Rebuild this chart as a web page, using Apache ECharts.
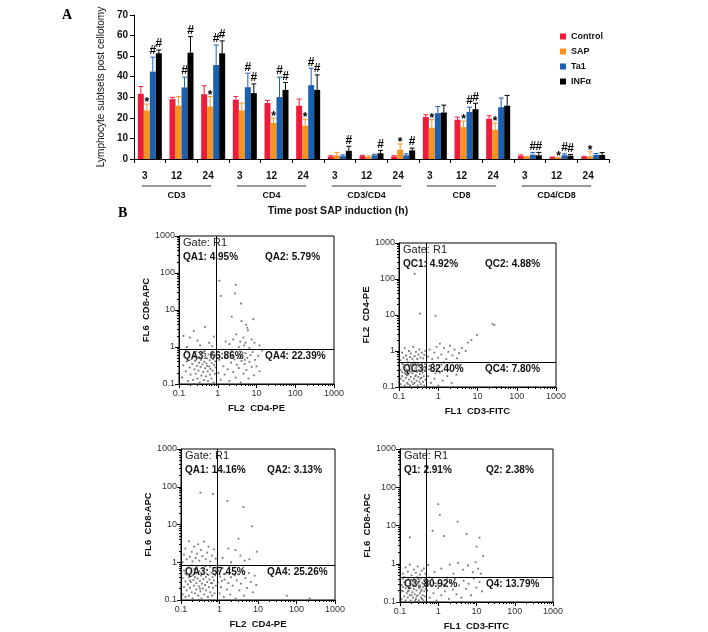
<!DOCTYPE html>
<html>
<head>
<meta charset="utf-8">
<script src="https://cdn.jsdelivr.net/npm/echarts@6/dist/echarts.min.js"></script>
<style>body{margin:0;background:#fff;}</style>
</head>
<body>
<div id="main" style="width:708px;height:632px;"></div>
<script type="text/javascript">
// ---- panel A data ----
var groups = ['CD3', 'CD4', 'CD3/CD4', 'CD8', 'CD4/CD8'];
var times = ['3', '12', '24'];
var seriesNames = ['Control', 'SAP', 'Ta1', 'INFα'];

var ctrlMean = [31.7, 29.1, 31.5, 28.8, 27.2, 25.9, 1.2, 1.4, 1.2, 20.4, 19.1, 19.6, 1.5, 0.8, 1.1];
var ctrlSd   = [3.5, 0.9, 4.1, 1.6, 1.3, 3.2, 0.4, 0.4, 0.4, 1.1, 1.3, 1.4, 0.5, 0.2, 0.2];
var sapMean  = [23.6, 25.9, 25.5, 23.6, 17.5, 16.2, 1.8, 1.0, 4.5, 15.2, 15.5, 14.2, 1.0, 0.6, 1.3];
var sapSd    = [3.1, 4.5, 4.9, 3.6, 2.4, 3.2, 1.4, 0.5, 2.8, 3.9, 2.9, 3.3, 0.3, 0.2, 2.2];
var ta1Mean  = [42.5, 34.8, 45.7, 34.9, 30.1, 35.9, 1.4, 1.8, 1.8, 22.3, 22.9, 25.2, 2.1, 1.8, 2.0];
var ta1Sd    = [7.0, 5.0, 9.7, 6.8, 9.7, 8.2, 0.6, 0.5, 0.7, 3.2, 2.3, 4.4, 1.1, 0.7, 0.7];
var infMean  = [51.4, 51.7, 51.4, 32.0, 33.6, 33.6, 4.0, 2.8, 4.2, 22.6, 24.2, 25.9, 1.8, 1.6, 2.0];
var infSd    = [1.6, 7.8, 6.0, 4.5, 3.6, 7.3, 2.2, 1.4, 1.1, 3.6, 2.9, 5.0, 1.4, 0.6, 1.1];

var ctrlMark = ['', '', '', '', '', '', '', '', '', '', '', '', '', '', ''];
var sapMark  = ['*', '', '*', '', '*', '*', '', '', '*', '*', '*', '*', '', '*', '*'];
var ta1Mark  = ['#', '#', '#', '#', '#', '#', '', '', '', '', '#', '', '#', '#', ''];
var infMark  = ['#', '#', '#', '#', '#', '#', '#', '#', '#', '', '#', '', '#', '#', ''];

// ---- panel B data (flow cytometry events) ----
var fcA = [
  [0.12,0.15],[0.13,0.32],[0.14,0.55],[0.15,0.22],[0.16,0.41],[0.17,0.12],[0.18,0.68],[0.19,0.28],[0.2,0.18],[0.21,0.47],
  [0.22,0.35],[0.23,0.13],[0.24,0.6],[0.25,0.25],[0.26,0.42],[0.27,0.19],[0.28,0.75],[0.29,0.31],[0.3,0.14],[0.31,0.52],
  [0.32,0.23],[0.33,0.38],[0.34,0.11],[0.35,0.65],[0.36,0.29],[0.37,0.45],[0.38,0.17],[0.39,0.56],[0.4,0.34],[0.42,0.21],
  [0.43,0.72],[0.44,0.13],[0.45,0.4],[0.47,0.27],[0.48,0.58],[0.5,0.16],[0.51,0.36],[0.53,0.49],[0.55,0.22],[0.56,0.12],
  [0.58,0.63],[0.6,0.3],[0.62,0.44],[0.63,0.18],[0.65,0.26],[0.67,0.54],[0.69,0.14],[0.7,0.37],[0.72,0.69],[0.74,0.23],
  [0.76,0.47],[0.78,0.11],[0.8,0.33],[0.82,0.6],[0.84,0.19],[0.86,0.41],[0.88,0.28],[0.15,0.8],[0.24,0.1],[0.46,0.78],
  [0.58,0.1],[0.35,0.5],[0.28,0.46],[0.53,0.31],
  [1.05,0.2],[1.1,0.45],[1.2,0.13],[1.3,0.66],[1.4,0.3],[1.5,0.18],[1.6,0.52],[1.8,0.25],[1.9,0.72],[2.0,0.12],
  [2.2,0.38],[2.4,0.58],[2.5,0.21],[2.7,0.46],[2.9,0.15],[3.1,0.33],[3.3,0.62],[3.5,0.27],[3.7,0.76],[3.9,0.11],
  [4.1,0.42],[4.3,0.55],[4.6,0.19],[4.9,0.35],[5.2,0.68],[5.5,0.24],[5.8,0.5],[6.2,0.14],[6.6,0.4],[7.0,0.6],
  [7.5,0.29],[8.0,0.73],[8.6,0.17],[9.2,0.45],[10,0.3],[11,0.58],[12,0.22],[14,0.8],[3.6,0.5],[4.4,0.7],[5.0,0.45],[2.3,0.8],
  [0.13,2.0],[0.19,1.8],[0.24,2.7],[0.47,3.5],[0.8,1.9],[0.35,1.1],[0.6,1.3],[0.16,1.0],[0.72,1.05],[0.3,1.5],
  [1.1,62],[2.9,48],[2.8,28],[1.2,24],[4.0,15],[2.3,6.6],[8.3,5.7],[4.1,5.0],[5.4,4.0],[3.0,2.2],
  [4.6,1.8],[5.2,1.3],[6.0,2.8],[7.5,1.6],[2.0,1.2],[3.5,1.0],[4.8,1.1],[8.8,1.3],[6.5,0.95],[2.5,1.6],
  [12,1.1],[1.6,1.4],[5.8,3.3],[3.8,1.4]
];
var fcB = [
  [0.11,0.12],[0.11,0.3],[0.12,0.2],[0.12,0.45],[0.13,0.15],[0.13,0.35],[0.14,0.11],[0.14,0.25],[0.15,0.4],[0.15,0.18],
  [0.16,0.13],[0.16,0.3],[0.17,0.22],[0.17,0.48],[0.18,0.16],[0.18,0.36],[0.19,0.11],[0.19,0.27],[0.2,0.42],[0.2,0.19],
  [0.21,0.14],[0.21,0.32],[0.22,0.24],[0.22,0.45],[0.23,0.12],[0.23,0.38],[0.24,0.17],[0.25,0.29],[0.25,0.13],[0.26,0.44],
  [0.27,0.21],[0.27,0.34],[0.28,0.15],[0.29,0.26],[0.3,0.47],[0.3,0.11],[0.31,0.19],[0.32,0.37],[0.33,0.14],[0.33,0.28],
  [0.34,0.23],[0.35,0.41],[0.36,0.12],[0.37,0.31],[0.38,0.18],[0.39,0.46],[0.4,0.25],[0.41,0.14],[0.42,0.35],[0.43,0.2],
  [0.44,0.11],[0.45,0.29],[0.46,0.43],[0.47,0.16],[0.48,0.33],[0.12,0.26],[0.14,0.33],[0.17,0.12],[0.19,0.39],[0.24,0.48],
  [0.28,0.4],[0.35,0.17],[0.38,0.1],[0.15,0.23],[0.21,0.27],[0.26,0.2],[0.31,0.43],[0.11,0.17],[0.13,0.42],[0.16,0.21],
  [0.11,0.55],[0.12,0.9],[0.13,0.65],[0.14,1.2],[0.15,0.75],[0.16,0.58],[0.18,1.0],[0.19,0.68],[0.2,0.85],[0.22,0.6],
  [0.23,1.3],[0.25,0.72],[0.27,0.95],[0.29,0.6],[0.31,0.8],[0.33,1.1],[0.35,0.66],[0.38,0.9],[0.41,0.62],[0.44,0.78],
  [0.47,1.0],[0.25,140],[0.34,11],
  [0.55,0.2],[0.6,0.38],[0.65,0.13],[0.7,0.28],[0.75,0.45],[0.8,0.17],[0.9,0.33],[1.0,0.11],[1.1,0.25],[1.2,0.42],
  [1.3,0.15],[1.5,0.3],[1.7,0.2],[1.9,0.47],[2.2,0.13],[2.5,0.36],[2.9,0.22],[3.4,0.4],[0.58,0.31],[0.85,0.24],[1.4,0.48],[2.0,0.29],
  [0.55,0.7],[0.6,1.1],[0.7,0.6],[0.8,0.9],[0.9,1.3],[1.0,0.65],[1.2,0.8],[1.4,1.2],[1.6,0.6],[1.8,0.95],
  [2.0,1.4],[2.3,0.75],[2.6,1.1],[3.0,0.62],[3.4,0.88],[4.0,1.2],[5.0,1.0],[5.7,1.7],[7.0,2.0],[9.7,2.8],
  [0.85,9.5],[24,5.6],[27,5.3],[1.1,1.6]
];
var fcC = [
  [0.11,0.14],[0.11,0.38],[0.12,0.22],[0.12,0.6],[0.13,0.12],[0.13,0.31],[0.14,0.47],[0.14,0.18],[0.15,0.26],[0.15,0.72],
  [0.16,0.13],[0.16,0.4],[0.17,0.21],[0.18,0.55],[0.18,0.3],[0.19,0.16],[0.2,0.45],[0.2,0.11],[0.21,0.34],[0.22,0.24],
  [0.22,0.66],[0.23,0.15],[0.24,0.5],[0.25,0.28],[0.25,0.19],[0.26,0.8],[0.27,0.37],[0.28,0.13],[0.29,0.23],[0.3,0.58],
  [0.31,0.32],[0.32,0.17],[0.33,0.44],[0.34,0.11],[0.35,0.27],[0.36,0.7],[0.37,0.2],[0.38,0.36],[0.4,0.14],[0.41,0.52],
  [0.42,0.25],[0.44,0.41],[0.45,0.18],[0.47,0.63],[0.48,0.3],[0.5,0.12],[0.52,0.46],[0.53,0.22],[0.55,0.35],[0.57,0.76],
  [0.58,0.16],[0.6,0.28],[0.62,0.53],[0.64,0.13],[0.66,0.4],[0.68,0.21],[0.7,0.6],[0.72,0.33],[0.74,0.15],[0.77,0.45],
  [0.8,0.24],[0.83,0.68],[0.19,0.82],[0.29,0.1],[0.43,0.78],[0.56,0.1],[0.23,0.4],[0.39,0.55],[0.13,0.5],[0.65,0.28],
  [0.31,0.2],[0.17,0.33],
  [0.11,1.0],[0.12,1.6],[0.13,2.3],[0.14,1.2],[0.16,3.6],[0.17,1.4],[0.19,1.9],[0.2,1.05],[0.22,2.6],[0.24,1.3],
  [0.26,1.7],[0.28,3.0],[0.3,1.1],[0.33,2.1],[0.36,1.45],[0.4,3.5],[0.44,1.2],[0.48,1.8],[0.52,2.6],[0.58,1.05],
  [0.64,1.5],[0.72,2.2],[0.8,1.25],[0.32,70],[0.67,65],
  [0.9,0.3],[0.95,0.6],[1.0,0.15],[1.05,0.42],[1.1,0.22],[1.2,0.7],[1.3,0.12],[1.35,0.35],[1.45,0.5],[1.55,0.19],
  [1.7,0.28],[1.8,0.8],[1.9,0.14],[2.0,0.4],[2.2,0.24],[2.4,0.6],[2.6,0.11],[2.8,0.33],[3.0,0.48],[3.3,0.18],
  [3.6,0.27],[3.9,0.66],[4.3,0.13],[4.7,0.38],[5.2,0.21],[5.8,0.52],[6.5,0.3],[7.3,0.16],[8.2,0.44],[9.0,0.25],
  [56,0.13],[220,0.11],[1.15,0.32],[2.5,0.45],
  [1.6,42],[4.2,29],[6.9,9],[3.1,4.2],[1.7,2.3],[2.6,2.1],[9.3,1.9],[1.2,1.3],[2.0,1.0],[4.5,1.1],[3.5,1.5],[6.0,1.2]
];
var fcD = [
  [0.11,0.12],[0.11,0.28],[0.12,0.19],[0.12,0.4],[0.13,0.14],[0.13,0.33],[0.14,0.23],[0.14,0.11],[0.15,0.37],[0.15,0.17],
  [0.16,0.26],[0.16,0.13],[0.17,0.43],[0.17,0.2],[0.18,0.31],[0.18,0.15],[0.19,0.11],[0.19,0.24],[0.2,0.38],[0.21,0.18],
  [0.21,0.29],[0.22,0.13],[0.23,0.41],[0.23,0.22],[0.24,0.16],[0.25,0.34],[0.26,0.12],[0.26,0.26],[0.27,0.2],[0.28,0.44],
  [0.29,0.15],[0.3,0.3],[0.31,0.11],[0.31,0.23],[0.32,0.38],[0.33,0.17],[0.34,0.27],[0.35,0.13],[0.36,0.42],[0.37,0.21],
  [0.38,0.32],[0.39,0.15],[0.4,0.25],[0.41,0.11],[0.42,0.37],[0.43,0.19],[0.44,0.29],[0.45,0.14],[0.46,0.4],[0.47,0.22],
  [0.12,0.25],[0.14,0.3],[0.16,0.19],[0.2,0.15],[0.22,0.35],[0.24,0.27],[0.27,0.14],[0.3,0.4],[0.33,0.24],[0.35,0.19],
  [0.38,0.12],[0.13,0.45],[0.18,0.38],[0.25,0.11],[0.29,0.33],[0.41,0.3],[0.11,0.2],
  [0.12,0.55],[0.14,0.8],[0.16,0.62],[0.18,0.95],[0.2,0.5],[0.23,0.7],[0.26,0.58],[0.29,0.85],[0.33,0.52],[0.37,0.66],
  [0.42,0.75],[0.18,4.9],[0.46,0.55],
  [0.52,0.2],[0.55,0.35],[0.6,0.13],[0.65,0.27],[0.7,0.42],[0.75,0.17],[0.82,0.31],[0.9,0.11],[1.0,0.23],[1.1,0.38],
  [1.2,0.15],[1.35,0.29],[1.5,0.19],[1.7,0.43],[1.9,0.12],[2.1,0.33],[2.4,0.21],[2.7,0.4],[3.0,0.16],[3.5,0.27],
  [4.0,0.13],[4.6,0.36],[5.3,0.22],[6.2,0.3],[7.2,0.15],[8.5,0.41],[10,0.24],[12,0.33],[14,0.19],[0.58,0.44],[0.95,0.3],[1.6,0.26],
  [1.0,36],[1.1,19],[0.71,7.3],[1.4,5.3],[3.2,12.6],[5.5,6],[12,4.8],[10,2.8],[15,1.6],[0.55,0.93],
  [0.8,0.6],[1.2,0.75],[2.0,0.95],[2.5,0.55],[3.3,1.05],[4.5,0.7],[6.0,0.9],[8.0,0.6],[9.5,1.1],[11,0.75],[13,0.55]
];
var gateA = [0.9, 0.85], gateB = [0.5, 0.5], gateC = [0.87, 0.85], gateD = [0.48, 0.45];
var quadA = ['QA1: 4.95%', 'QA2: 5.79%', 'QA3: 66.86%', 'QA4: 22.39%'];
var quadB = ['QC1: 4.92%', 'QC2: 4.88%', 'QC3: 82.40%', 'QC4: 7.80%'];
var quadC = ['QA1: 14.16%', 'QA2: 3.13%', 'QA3: 57.45%', 'QA4: 25.26%'];
var quadD = ['Q1: 2.91%', 'Q2: 2.38%', 'Q3: 80.92%', 'Q4: 13.79%'];
var axNames = [
  ['FL2  CD4-PE', 'FL6  CD8-APC'],
  ['FL1  CD3-FITC', 'FL2  CD4-PE'],
  ['FL2  CD4-PE', 'FL6  CD8-APC'],
  ['FL1  CD3-FITC', 'FL6  CD8-APC']
];

// ---- build ----
var colors = ['#ec1c3a', '#f7931e', '#1b5fb0', '#000000'];
var means = [ctrlMean, sapMean, ta1Mean, infMean];
var sds = [ctrlSd, sapSd, ta1Sd, infSd];
var marks = [ctrlMark, sapMark, ta1Mark, infMark];
var barW = 6;
var font = 'Arial, "Liberation Sans", sans-serif';

var cats = [];
groups.forEach(function (g) {
  times.forEach(function (t) { cats.push(g + '|' + t); });
});

var fcData = [fcA, fcB, fcC, fcD];
var gates = [gateA, gateB, gateC, gateD];
var quads = [quadA, quadB, quadC, quadD];
var fcGrids = [
  {left: 179, top: 236, width: 155, height: 148},
  {left: 399, top: 243, width: 157, height: 144},
  {left: 181, top: 449, width: 154, height: 151},
  {left: 400, top: 449, width: 153, height: 153}
];
var yNameGap = [25, 20, 25, 22];

var chart = echarts.init(document.getElementById('main'));

var grids = [{left: 134, top: 15, width: 475, height: 144}];
fcGrids.forEach(function (g) {
  grids.push({left: g.left, top: g.top, width: g.width, height: g.height,
    show: true, borderColor: '#000', borderWidth: 1, backgroundColor: 'transparent'});
});

var xAxes = [
  {
    type: 'category', gridIndex: 0, data: cats,
    axisLine: {lineStyle: {color: '#000', width: 1}},
    axisTick: {show: true, length: 4, lineStyle: {color: '#000'}},
    axisLabel: {
      interval: 0, margin: 12, color: '#111', fontSize: 10, fontWeight: 'bold', fontFamily: font,
      padding: [0, 10, 0, 0],
      formatter: function (v) { return v.split('|')[1]; }
    }
  },
  {
    type: 'category', gridIndex: 0, position: 'bottom', data: groups,
    axisLine: {show: false}, axisTick: {show: false},
    axisLabel: {interval: 0, margin: 32, color: '#111', fontSize: 9, fontWeight: 'bold', fontFamily: font,
      padding: [0, 10, 0, 0]}
  }
];
var yAxes = [
  {
    type: 'value', gridIndex: 0, min: 0, max: 70, interval: 10,
    name: 'Lymphocyte subtsets post cellotomy', nameLocation: 'middle', nameGap: 28,
    nameTextStyle: {fontSize: 10, color: '#111', fontFamily: font},
    axisLine: {show: true, lineStyle: {color: '#000'}},
    axisTick: {show: true, length: 4, lineStyle: {color: '#000'}},
    splitLine: {show: false},
    axisLabel: {color: '#111', fontSize: 10, fontWeight: 'bold', fontFamily: font, margin: 6}
  }
];

function logLabel(v) {
  return String(Math.round(v * 10) / 10);
}

fcGrids.forEach(function (g, k) {
  var common = {
    type: 'log', logBase: 10, min: 0.1, max: 1000, gridIndex: k + 1,
    nameLocation: 'middle',
    nameTextStyle: {fontSize: 9.5, fontWeight: 'bold', color: '#111', fontFamily: font},
    axisLine: {show: true, lineStyle: {color: '#000'}},
    axisTick: {show: true, length: 4, lineStyle: {color: '#000'}},
    minorTick: {show: true, splitNumber: 9, length: 2, lineStyle: {color: '#000'}},
    splitLine: {show: false},
    minorSplitLine: {show: false}
  };
  xAxes.push(Object.assign({}, common, {
    name: axNames[k][0], nameGap: 19,
    axisLabel: {color: '#333', fontSize: 9, fontFamily: font, margin: 5, formatter: logLabel}
  }));
  yAxes.push(Object.assign({}, common, {
    name: axNames[k][1], nameGap: yNameGap[k],
    axisLabel: {color: '#333', fontSize: 9, fontFamily: font, margin: 4, formatter: logLabel}
  }));
});

var series = [];
seriesNames.forEach(function (name, k) {
  series.push({
    name: name, type: 'bar', xAxisIndex: 0, yAxisIndex: 0,
    data: means[k], barWidth: barW, barGap: '0%',
    itemStyle: {color: colors[k]}
  });
});
seriesNames.forEach(function (name, k) {
  series.push({
    type: 'custom', xAxisIndex: 0, yAxisIndex: 0, z: 5, silent: true,
    data: means[k].map(function (m, i) { return [i, m, sds[k][i]]; }),
    renderItem: function (params, api) {
      var i = api.value(0);
      var base = api.coord([i, api.value(1)]);
      var top = api.coord([i, api.value(1) + api.value(2)]);
      var x = base[0] + (k - 1.5) * barW;
      var kids = [
        {type: 'line', shape: {x1: x, y1: base[1], x2: x, y2: top[1]}, style: {stroke: colors[k], lineWidth: 1}},
        {type: 'line', shape: {x1: x - 2.5, y1: top[1], x2: x + 2.5, y2: top[1]}, style: {stroke: colors[k], lineWidth: 1}}
      ];
      var m = marks[k][params.dataIndex];
      if (m) {
        kids.push({type: 'text', style: {text: m, x: x, y: top[1] + (m === '*' ? 5 : 0),
          align: 'center', verticalAlign: 'bottom', font: 'bold 12px Arial, "Liberation Sans"', fill: '#000'}});
      }
      return {type: 'group', children: kids};
    }
  });
});

fcData.forEach(function (d, k) {
  series.push({
    type: 'scatter', xAxisIndex: k + 2, yAxisIndex: k + 1, silent: true,
    data: d, symbol: 'rect', symbolSize: 1.8,
    itemStyle: {color: '#555'},
    markLine: {
      silent: true, symbol: ['none', 'none'], animation: false,
      label: {show: false},
      lineStyle: {color: '#000', width: 1, type: 'solid'},
      data: [{xAxis: gates[k][0]}, {yAxis: gates[k][1]}]
    }
  });
});

chart.setOption({
  animation: false,
  backgroundColor: '#fff',
  textStyle: {fontFamily: font},
  grid: grids,
  xAxis: xAxes,
  yAxis: yAxes,
  legend: {
    data: seriesNames, orient: 'vertical', left: 555, top: 27,
    icon: 'rect', itemWidth: 6, itemHeight: 6, itemGap: 6,
    textStyle: {fontSize: 9, fontWeight: 'bold', color: '#111', fontFamily: font}
  },
  series: series
});

// annotations: panel letters, axis title, group underlines, gate texts
var gfx = [
  {type: 'text', left: 62, top: 8, style: {text: 'A', font: 'bold 14px "Liberation Serif", "Times New Roman", serif', fill: '#000'}},
  {type: 'text', left: 118, top: 206, style: {text: 'B', font: 'bold 14px "Liberation Serif", "Times New Roman", serif', fill: '#000'}},
  {type: 'text', x: 338, y: 211, style: {text: 'Time post SAP induction (h)', align: 'center', verticalAlign: 'middle',
    font: 'bold 10.5px Arial, "Liberation Sans"', fill: '#111'}}
];
var axisY = chart.convertToPixel({gridIndex: 0}, [0, 0])[1];
groups.forEach(function (g, gi) {
  var a = chart.convertToPixel({gridIndex: 0}, [gi * 3, 0])[0];
  var b = chart.convertToPixel({gridIndex: 0}, [gi * 3 + 2, 0])[0];
  gfx.push({type: 'line', silent: true, shape: {x1: a - 8, y1: axisY + 27, x2: b - 2, y2: axisY + 27},
    style: {stroke: '#333', lineWidth: 1.2}});
});
fcGrids.forEach(function (g, k) {
  var gy = chart.convertToPixel({gridIndex: k + 1}, [1, gates[k][1]])[1];
  var f = 'bold 10px Arial, "Liberation Sans"';
  gfx.push({type: 'text', x: g.left + 4, y: g.top + 7, style: {text: 'Gate: R1', verticalAlign: 'middle', font: '11px Arial, "Liberation Sans"', fill: '#222'}});
  gfx.push({type: 'text', x: g.left + 4, y: g.top + 21, style: {text: quads[k][0], verticalAlign: 'middle', font: f, fill: '#111'}});
  gfx.push({type: 'text', x: g.left + 86, y: g.top + 21, style: {text: quads[k][1], verticalAlign: 'middle', font: f, fill: '#111'}});
  gfx.push({type: 'text', x: g.left + 4, y: gy + 7, style: {text: quads[k][2], verticalAlign: 'middle', font: f, fill: '#111'}});
  gfx.push({type: 'text', x: g.left + 86, y: gy + 7, style: {text: quads[k][3], verticalAlign: 'middle', font: f, fill: '#111'}});
});
chart.setOption({graphic: gfx});
</script>
</body>
</html>
